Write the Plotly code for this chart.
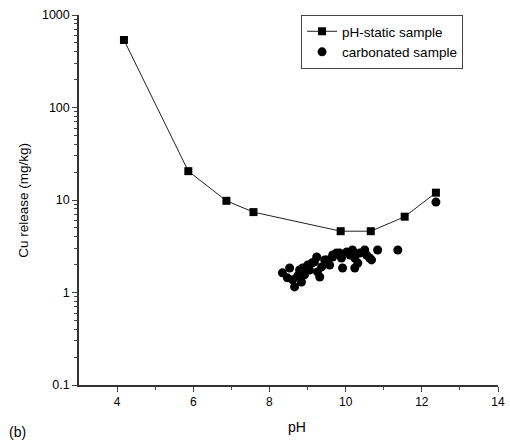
import plotly.graph_objects as go

# pH-static sample
static_ph = [4.18, 5.87, 6.87, 7.58, 9.87, 10.66, 11.55, 12.37]
static_cu = [537, 20.5, 9.8, 7.4, 4.6, 4.6, 6.6, 12.0]

# carbonated sample
carb_ph = [8.34, 8.53, 8.47, 8.66, 8.61, 8.84, 8.92, 8.87, 9.11, 9.24, 9.26, 9.37,
           9.50, 9.58, 9.66, 9.76, 9.66, 9.84, 9.92, 10.03, 10.18, 10.24, 10.24, 10.32,
           10.50, 10.68, 10.84, 11.37, 12.37, 9.00, 9.18, 9.32, 9.45, 9.89, 10.11,
           10.37, 10.55, 10.63, 8.79, 9.05, 8.74]
carb_cu = [1.63, 1.84, 1.44, 1.15, 1.37, 1.30, 1.55, 1.84, 2.08, 2.42, 1.67, 1.89,
           2.25, 1.98, 2.42, 2.67, 2.54, 2.67, 1.84, 2.74, 2.88, 2.36, 1.84, 2.08,
           2.88, 2.25, 2.88, 2.88, 9.5, 1.98, 2.14, 1.47, 2.25, 2.36, 2.54,
           2.67, 2.54, 2.36, 1.75, 1.75, 1.51]

y_tickvals = [0.1, 1, 10, 100, 1000]
y_ticktext = ["0.1", "1", "10", "100", "1000"]
x_tickvals = [4, 6, 8, 10, 12, 14]

fig = go.Figure()
fig.add_trace(go.Scatter(
    x=static_ph, y=static_cu, mode="lines+markers", name="pH-static sample",
    line=dict(color="#222", width=1),
    marker=dict(symbol="square", size=8, color="black"),
))
fig.add_trace(go.Scatter(
    x=carb_ph, y=carb_cu, mode="markers", name="carbonated sample",
    marker=dict(symbol="circle", size=9, color="black"),
))

fig.update_layout(
    width=510, height=445,
    margin=dict(l=79, r=12, t=15, b=60),
    paper_bgcolor="white", plot_bgcolor="white",
    font=dict(family="Liberation Sans, Arial", size=12, color="black"),
    showlegend=True,
    legend=dict(x=0.53, y=1.0, xanchor="left", yanchor="top",
                bgcolor="white", bordercolor="#444", borderwidth=1,
                font=dict(size=13.5), tracegroupgap=0, itemwidth=30),
    xaxis=dict(range=[3, 14], tickvals=x_tickvals, ticks="outside", ticklen=5,
               showline=True, linecolor="#333", linewidth=1.5, showgrid=False,
               zeroline=False, tickfont=dict(size=12), automargin=False,
               minor=dict(tickvals=[5, 7, 9, 11, 13], ticks="outside", ticklen=3)),
    yaxis=dict(type="log", range=[-1, 3], tickvals=y_tickvals, ticktext=y_ticktext,
               ticks="outside", ticklen=5, showline=True, linecolor="#333",
               linewidth=1.5, showgrid=False, zeroline=False, tickfont=dict(size=12.5),
               automargin=False,
               minor=dict(ticks="outside", ticklen=3, dtick="D1")),
    annotations=[
        dict(text="Cu release (mg/kg)", x=-0.134, xref="paper", y=0.5, yref="paper",
             xanchor="center", yanchor="middle", textangle=-90, showarrow=False,
             font=dict(size=13.5)),
        dict(text="pH", x=0.52, xref="paper", y=-0.1135, yref="paper",
             xanchor="center", yanchor="middle", showarrow=False, font=dict(size=14)),
        dict(text="(b)", x=-0.146, xref="paper", y=-0.127, yref="paper",
             xanchor="center", yanchor="middle", showarrow=False, font=dict(size=14)),
    ],
)

fig.write_html("out.html")
